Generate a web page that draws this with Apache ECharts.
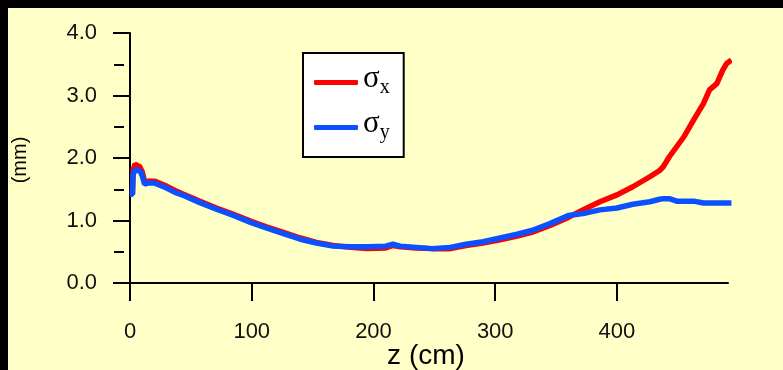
<!DOCTYPE html>
<html>
<head>
<meta charset="utf-8">
<script src="https://cdn.jsdelivr.net/npm/echarts@6/dist/echarts.min.js"></script>
<style>
html, body { margin: 0; padding: 0; background: #000; }
#chart { width: 783px; height: 370px; }
</style>
</head>
<body>
<div id="chart"></div>
<script>
// beam size along z
const zValues = [0, 2, 2.5, 4, 6, 8, 10, 12, 15, 20, 25, 30, 37, 44, 57, 71, 85, 99, 112, 126, 140, 153, 167, 181, 195, 210, 216, 222, 235, 248, 263, 276, 290, 304, 318, 330, 345, 360, 372, 386, 400, 413, 427, 435, 438, 443, 449, 455, 463, 471, 476, 482, 487, 490, 494];
const sigmaX = [1.42, 1.42, 1.80, 1.90, 1.88, 1.86, 1.78, 1.62, 1.63, 1.63, 1.59, 1.55, 1.48, 1.42, 1.31, 1.20, 1.10, 0.99, 0.90, 0.81, 0.72, 0.65, 0.60, 0.57, 0.55, 0.56, 0.60, 0.58, 0.56, 0.55, 0.55, 0.60, 0.64, 0.69, 0.75, 0.81, 0.92, 1.05, 1.17, 1.30, 1.41, 1.54, 1.70, 1.80, 1.86, 2.02, 2.18, 2.34, 2.61, 2.87, 3.09, 3.19, 3.41, 3.51, 3.57];
const sigmaY = [1.42, 1.42, 1.72, 1.82, 1.80, 1.80, 1.72, 1.58, 1.60, 1.60, 1.56, 1.52, 1.45, 1.40, 1.29, 1.18, 1.08, 0.97, 0.88, 0.79, 0.70, 0.64, 0.59, 0.58, 0.58, 0.59, 0.62, 0.59, 0.57, 0.55, 0.57, 0.62, 0.66, 0.72, 0.78, 0.84, 0.95, 1.08, 1.11, 1.17, 1.20, 1.26, 1.30, 1.34, 1.35, 1.35, 1.31, 1.31, 1.31, 1.28, 1.28, 1.28, 1.28, 1.28, 1.28];
const seriesNames = ['σx', 'σy'];
const xTicks = [0, 100, 200, 300, 400];
const yTicks = [0, 1, 2, 3, 4];
const yMinorTicks = [0.5, 1.5, 2.5, 3.5];

const chart = echarts.init(document.getElementById('chart'));

const pairs = (ys) => zValues.map((z, i) => [z, ys[i]]);

const option = {
    backgroundColor: '#FFFFC8',
    animation: false,
    textStyle: { fontFamily: 'Liberation Sans, Arial, sans-serif', color: '#111' },
    graphic: [
        { type: 'rect', left: 0, top: 0, shape: { width: 783, height: 8 }, style: { fill: '#000' } },
        { type: 'rect', left: 0, top: 0, shape: { width: 8, height: 370 }, style: { fill: '#000' } }
    ],
    grid: { left: 124, top: 33, right: 55, bottom: 83, outerBoundsMode: 'none' },
    legend: {
        left: 303,
        top: 53,
        orient: 'vertical',
        backgroundColor: '#fff',
        borderColor: '#000',
        borderWidth: 2,
        borderRadius: 0,
        padding: [10, 14, 10, 11],
        itemWidth: 44,
        itemHeight: 5,
        itemGap: 6,
        itemTextGap: 7,
        icon: 'roundRect',
        formatter: (name) => '{a|σ}{b|' + name.slice(1) + '}',
        textStyle: {
            rich: {
                a: { fontFamily: 'Liberation Serif', fontSize: 31, lineHeight: 31, padding: [0, 0, 8, 0], color: '#000' },
                b: { fontFamily: 'Liberation Serif', fontSize: 20, lineHeight: 20, verticalAlign: 'bottom', color: '#000' }
            }
        },
        data: seriesNames
    },
    xAxis: {
        type: 'value',
        min: -4.93,
        max: 491.2,
        name: 'z (cm)',
        nameLocation: 'middle',
        nameGap: 55,
        nameMoveOverlap: false,
        nameTextStyle: { fontSize: 28, color: '#000' },
        splitLine: { show: false },
        axisLine: { lineStyle: { color: '#000', width: 2 } },
        axisTick: { customValues: xTicks, length: 18, lineStyle: { color: '#000', width: 2 } },
        axisLabel: { customValues: xTicks, fontSize: 22, margin: 34, color: '#111' }
    },
    yAxis: [{
        type: 'value',
        min: -0.064,
        max: 4,
        position: 'left',
        name: '(mm)',
        nameLocation: 'middle',
        nameRotate: 90,
        nameGap: 94,
        nameMoveOverlap: false,
        nameTextStyle: { fontSize: 20, color: '#000' },
        splitLine: { show: false },
        axisLine: { show: true, lineStyle: { color: '#000', width: 2 } },
        axisTick: { customValues: yTicks, length: 17, lineStyle: { color: '#000', width: 2 } },
        axisLabel: { customValues: yTicks, fontSize: 22, margin: 27, color: '#111', formatter: (v) => v.toFixed(1) }
    }, {
        type: 'value',
        min: -0.064,
        max: 4,
        position: 'left',
        splitLine: { show: false },
        axisLine: { show: false },
        axisTick: { customValues: yMinorTicks, length: 10, lineStyle: { color: '#000', width: 2 } },
        axisLabel: { show: false }
    }],
    series: [{
        name: seriesNames[0],
        type: 'line',
        symbol: 'none',
        clip: false,
        color: '#FF0000',
        lineStyle: { width: 5.5, color: '#FF0000' },
        data: pairs(sigmaX)
    }, {
        name: seriesNames[1],
        type: 'line',
        symbol: 'none',
        clip: false,
        color: '#0A50FF',
        lineStyle: { width: 5.5, color: '#0A50FF' },
        data: pairs(sigmaY)
    }]
};

chart.setOption(option);
</script>
</body>
</html>
